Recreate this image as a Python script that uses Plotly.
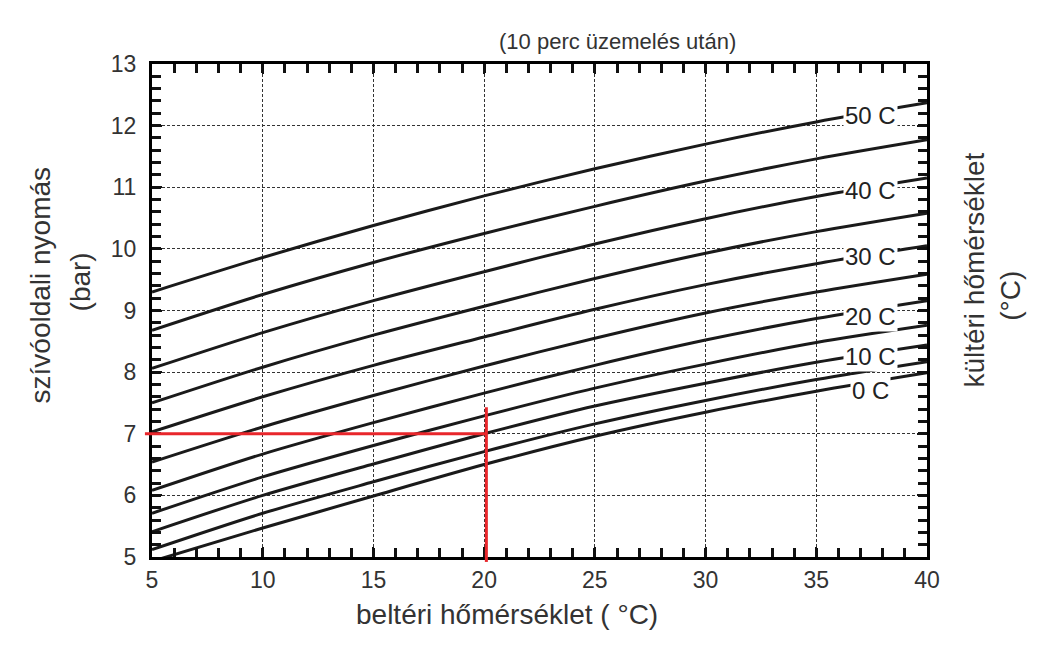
import plotly.graph_objects as go

# ---- data ----
indoor_temp = [5, 10, 15, 20, 25, 30, 35, 40]
outdoor_temps = [50, 45, 40, 35, 30, 25, 20, 15, 10, 5, 0]
pressure = {
    50: [9.30, 9.86, 10.38, 10.86, 11.30, 11.70, 12.06, 12.37],
    45: [8.68, 9.26, 9.78, 10.25, 10.69, 11.10, 11.46, 11.77],
    40: [8.06, 8.64, 9.16, 9.63, 10.08, 10.49, 10.85, 11.15],
    35: [7.50, 8.08, 8.60, 9.07, 9.52, 9.93, 10.28, 10.58],
    30: [7.03, 7.60, 8.11, 8.57, 9.02, 9.42, 9.76, 10.05],
    25: [6.54, 7.11, 7.62, 8.10, 8.55, 8.96, 9.30, 9.59],
    20: [6.08, 6.67, 7.18, 7.66, 8.11, 8.52, 8.87, 9.16],
    15: [5.71, 6.30, 6.81, 7.29, 7.74, 8.13, 8.48, 8.76],
    10: [5.41, 6.00, 6.51, 7.00, 7.45, 7.82, 8.16, 8.44],
    5:  [5.12, 5.71, 6.22, 6.71, 7.16, 7.54, 7.88, 8.17],
    0:  [4.93, 5.47, 5.99, 6.50, 6.96, 7.35, 7.69, 7.99],
}
labelled = [50, 40, 30, 20, 10, 0]
label_y = [12.16, 10.95, 9.87, 8.90, 8.25, 7.71]
x_ticks = [5, 10, 15, 20, 25, 30, 35, 40]
y_ticks = [5, 6, 7, 8, 9, 10, 11, 12, 13]
x_minor_step = 1
y_minor_step = 0.2
x_range = [5, 40]
y_range = [5, 13]

# example reading (red marker lines)
ex_x = 20.1
ex_y = 7.0
ex_x_start = 4.68
ex_y_top = 7.43
ex_y_bottom = 4.92

FONT = "Arial, Liberation Sans, sans-serif"
LBL = dict(family=FONT, size=28, color="#333")


def xdom(v):
    return (v - x_range[0]) / (x_range[1] - x_range[0])


def ydom(v):
    return (v - y_range[0]) / (y_range[1] - y_range[0])


fig = go.Figure()
for t in outdoor_temps:
    fig.add_trace(go.Scatter(
        x=indoor_temp, y=pressure[t], mode="lines",
        line=dict(color="#1a1a1a", width=3, shape="spline", smoothing=0.8),
        name=f"{t} C", showlegend=False, hoverinfo="skip"))

# red reading lines (allowed to overshoot the axes like in the original)
fig.add_shape(type="line", xref="x domain", yref="y", x0=xdom(ex_x_start), x1=xdom(ex_x),
              y0=ex_y, y1=ex_y, line=dict(color="#e8262b", width=3), layer="above")
fig.add_shape(type="line", xref="x", yref="y domain", x0=ex_x, x1=ex_x,
              y0=ydom(ex_y_top), y1=ydom(ex_y_bottom),
              line=dict(color="#e8262b", width=3), layer="above")

# curve labels
for t, ly in zip(labelled, label_y):
    fig.add_annotation(x=37.45, y=ly, xref="x", yref="y", text=f"{t} C", showarrow=False,
                       font=dict(family=FONT, size=24, color="#222"),
                       bgcolor="white", borderpad=1)

# titles
fig.add_annotation(x=0.60, y=1.075, xref="paper", yref="paper", text="(10 perc üzemelés után)",
                   showarrow=False, font=dict(family=FONT, size=22, color="#333"))
fig.add_annotation(x=0.4587, y=-0.152, xref="paper", yref="paper", text="beltéri hőmérséklet ( °C)",
                   showarrow=False, font=LBL)
fig.add_annotation(x=-0.1665, y=0.5517, xref="paper", yref="paper", text="szívóoldali nyomás",
                   textangle=-90, showarrow=False, font=LBL)
fig.add_annotation(x=-0.1148, y=0.558, xref="paper", yref="paper", text="(bar)",
                   textangle=-90, showarrow=False, font=LBL)
fig.add_annotation(x=1.0839, y=0.582, xref="paper", yref="paper", text="kültéri hőmérséklet",
                   textangle=-90, showarrow=False, font=LBL)
fig.add_annotation(x=1.1303, y=0.531, xref="paper", yref="paper", text="(°C)",
                   textangle=-90, showarrow=False, font=LBL)

fig.update_xaxes(range=x_range, tickvals=x_ticks, showline=True, linecolor="black", linewidth=3,
                 mirror="ticks", ticks="inside", ticklen=10, tickwidth=2, tickcolor="#111111",
                 minor=dict(dtick=x_minor_step, ticks="inside", ticklen=9, tickwidth=2.5,
                            tickcolor="#111111"),
                 showgrid=True, gridcolor="#333", gridwidth=1.4, griddash="3px,2px",
                 zeroline=False, tickfont=dict(family=FONT, size=23, color="#333"))
fig.update_yaxes(range=y_range, tickvals=y_ticks, showline=True, linecolor="black", linewidth=3,
                 mirror="ticks", ticks="inside", ticklen=10, tickwidth=2, tickcolor="#111111",
                 minor=dict(dtick=y_minor_step, ticks="inside", ticklen=9, tickwidth=2.5,
                            tickcolor="#111111"),
                 showgrid=True, gridcolor="#333", gridwidth=1.4, griddash="3px,2px",
                 zeroline=False, ticklabelstandoff=8,
                 tickfont=dict(family=FONT, size=23, color="#333"))

# page body has an 8px margin, so the figure is 8px smaller and shifted accordingly
fig.update_layout(width=1040, height=643, margin=dict(l=144, r=121, t=56, b=94),
                  plot_bgcolor="white", paper_bgcolor="white", showlegend=False)

fig.write_html("out.html")
